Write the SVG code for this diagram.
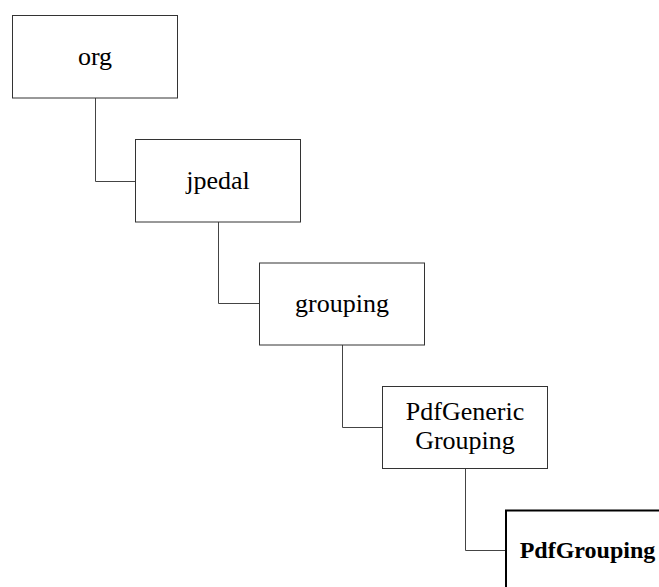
<svg xmlns="http://www.w3.org/2000/svg" width="659" height="587" viewBox="0 0 659 587">
<style>
.box{fill:#fff;stroke:#333;stroke-width:1}
.cur{fill:#fff;stroke:#000;stroke-width:2}
.lbl{font-family:"Liberation Serif",serif;font-size:26px;fill:#000;text-anchor:middle}
.b{font-weight:bold;font-size:24px}
.conn{fill:none;stroke:#444;stroke-width:1}
</style>
<rect width="659" height="587" fill="#fff"/>
<g id="connectors">
<path class="conn" d="M95.5,98 V181.5 H135.5"/>
<path class="conn" d="M218.5,222 V303.5 H259.5"/>
<path class="conn" d="M342.5,345 V427.5 H382.5"/>
<path class="conn" d="M465.5,468.5 V550.5 H505.5"/>
</g>
<g id="org">
<rect class="box" x="12.5" y="15.5" width="165" height="82.5"/>
<text class="lbl" x="95" y="65">org</text>
</g>
<g id="jpedal">
<rect class="box" x="135.5" y="139.5" width="165" height="82.5"/>
<text class="lbl" x="218" y="189">jpedal</text>
</g>
<g id="grouping">
<rect class="box" x="259.5" y="263" width="165" height="82"/>
<text class="lbl" x="342" y="312">grouping</text>
</g>
<g id="PdfGenericGrouping">
<rect class="box" x="382.5" y="386.5" width="165" height="82"/>
<text class="lbl" x="465" y="420">PdfGeneric</text>
<text class="lbl" x="465" y="448.5">Grouping</text>
</g>
<g id="PdfGrouping">
<rect class="cur" x="506" y="510.5" width="165" height="82"/>
<text class="lbl b" x="587.5" y="558">PdfGrouping</text>
</g>
</svg>
